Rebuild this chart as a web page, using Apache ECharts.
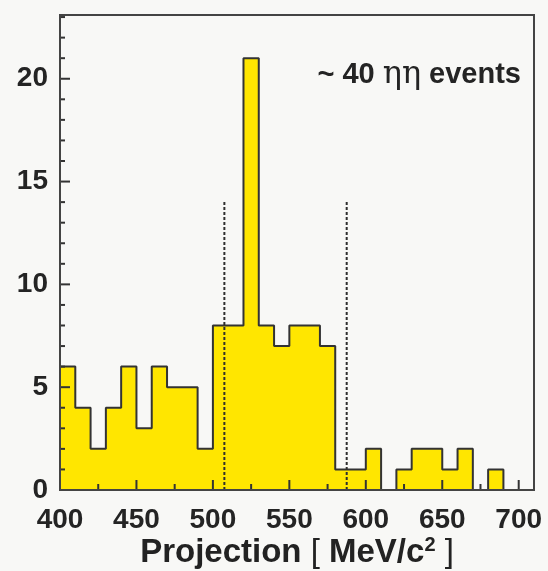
<!DOCTYPE html>
<html><head><meta charset="utf-8">
<script src="https://cdn.jsdelivr.net/npm/echarts@6/dist/echarts.min.js"></script>
<style>html,body{margin:0;padding:0;background:#f8f8f6}#c{width:548px;height:571px}</style>
</head><body><div id="c"></div>
<script>
// ---- data ----
const binLow = [400,410,420,430,440,450,460,470,480,490,500,510,520,530,540,550,560,570,580,590,600,610,620,630,640,650,660,670,680,690,700];
const counts = [6,4,2,4,6,3,6,5,5,2,8,8,21,8,7,8,8,7,1,1,2,0,1,2,2,1,2,0,1,0,0];
const binHigh = 710;
const xRange = [400, 710];
const yRange = [0, 23.1];
const xMajorTicks = [400,450,500,550,600,650,700];
const xMinorTicks = [425,475,525,575,625,675];
const yMajorTicks = [0,5,10,15,20];
const yMinorTicks = [1,2,3,4,6,7,8,9,11,12,13,14,16,17,18,19,21,22,23];
const cutLines = [507.5, 587.5];
const cutHeight = 14;
const xTitle = 'Projection';
const xUnit = 'MeV/c';
const xUnitSup = '2';
const noteParts = ['~ 40 ', 'ηη', ' events'];

// ---- build ----
const stepData = binLow.map((x, i) => [x, counts[i]]);
stepData.push([binHigh, counts[counts.length - 1]]);

const ink = '#333333';
const labelFont = {fontFamily: 'Liberation Sans', fontWeight: 'bold', fontSize: 28, color: '#242424'};

const chart = echarts.init(document.getElementById('c'), null, {renderer: 'canvas'});
const series = [{
  type: 'line', step: 'end', data: stepData, symbol: 'none', z: 2,
  lineStyle: {color: ink, width: 2}, areaStyle: {color: '#ffe600', opacity: 1},
  animation: false
}];
cutLines.forEach(x => series.push({
  type: 'line', data: [[x, 0], [x, cutHeight]], symbol: 'none', z: 3,
  lineStyle: {color: '#2e2e2e', width: 2, type: [3, 2]}, animation: false
}));

// axis ticks drawn above the filled histogram, positioned through the axes' scales
const xTickVals = xMajorTicks.concat(xMinorTicks);
const yTickVals = yMajorTicks.concat(yMinorTicks);
series.push({
  type: 'custom', z: 10, clip: false, silent: true,
  data: xTickVals.map(v => [v, yRange[0]]),
  encode: {x: 0, y: 1},
  renderItem: (params, api) => {
    const v = api.value(0);
    const p = api.coord([v, yRange[0]]);
    const len = xMajorTicks.indexOf(v) >= 0 ? 10 : 6;
    return {type: 'line', shape: {x1: p[0], y1: p[1], x2: p[0], y2: p[1] - len},
            style: {stroke: '#333', lineWidth: 2}};
  }
});
series.push({
  type: 'custom', z: 10, clip: false, silent: true,
  data: yTickVals.map(v => [xRange[0], v]),
  encode: {x: 0, y: 1},
  renderItem: (params, api) => {
    const v = api.value(1);
    const p = api.coord([xRange[0], v]);
    const len = yMajorTicks.indexOf(v) >= 0 ? 10 : 5;
    return {type: 'line', shape: {x1: p[0], y1: p[1], x2: p[0] + len, y2: p[1]},
            style: {stroke: '#333', lineWidth: 2}};
  }
});

chart.setOption({
  backgroundColor: '#f8f8f6',
  animation: false,
  grid: {left: 60, right: 14, top: 15, bottom: 81, containLabel: false, outerBoundsMode: 'none',
         show: true, borderColor: '#444', borderWidth: 2, backgroundColor: 'transparent'},
  xAxis: {
    type: 'value', min: xRange[0], max: xRange[1], z: 10,
    axisLine: {show: true, lineStyle: {color: '#444', width: 2}},
    axisTick: {show: false},
    axisLabel: Object.assign({customValues: xMajorTicks, margin: 16}, labelFont),
    splitLine: {show: false},
    name: '{t|' + xTitle + ' }{br|[ }{t|' + xUnit + '}{s|' + xUnitSup + '}{br| ]}',
    nameLocation: 'middle', nameGap: 45, nameMoveOverlap: false,
    nameTextStyle: {rich: {
      t: {fontFamily: 'Liberation Sans', fontWeight: 'bold', fontSize: 33, color: '#222', lineHeight: 36},
      s: {fontFamily: 'Liberation Sans', fontWeight: 'bold', fontSize: 20, color: '#222', verticalAlign: 'top', lineHeight: 20},
      br: {fontFamily: 'Liberation Sans', fontWeight: 'normal', fontSize: 33, color: '#222', lineHeight: 36}
    }}
  },
  yAxis: {
    type: 'value', min: yRange[0], max: yRange[1], z: 10,
    axisLine: {show: true, lineStyle: {color: '#444', width: 2}},
    axisTick: {show: false},
    axisLabel: Object.assign({customValues: yMajorTicks, margin: 12}, labelFont),
    splitLine: {show: false}
  },
  graphic: [{
    type: 'text', right: 27, top: 59, z: 20,
    style: {
      text: '{b|' + noteParts[0] + '}{g|' + noteParts[1] + '}{b|' + noteParts[2] + '}',
      rich: {
        b: {fontFamily: 'Liberation Sans', fontWeight: 'bold', fontSize: 29, fill: '#242424'},
        g: {fontFamily: 'DejaVu Serif', fontWeight: 'normal', fontSize: 32, fill: '#242424'}
      }
    }
  }],
  series: series
});
</script></body></html>
